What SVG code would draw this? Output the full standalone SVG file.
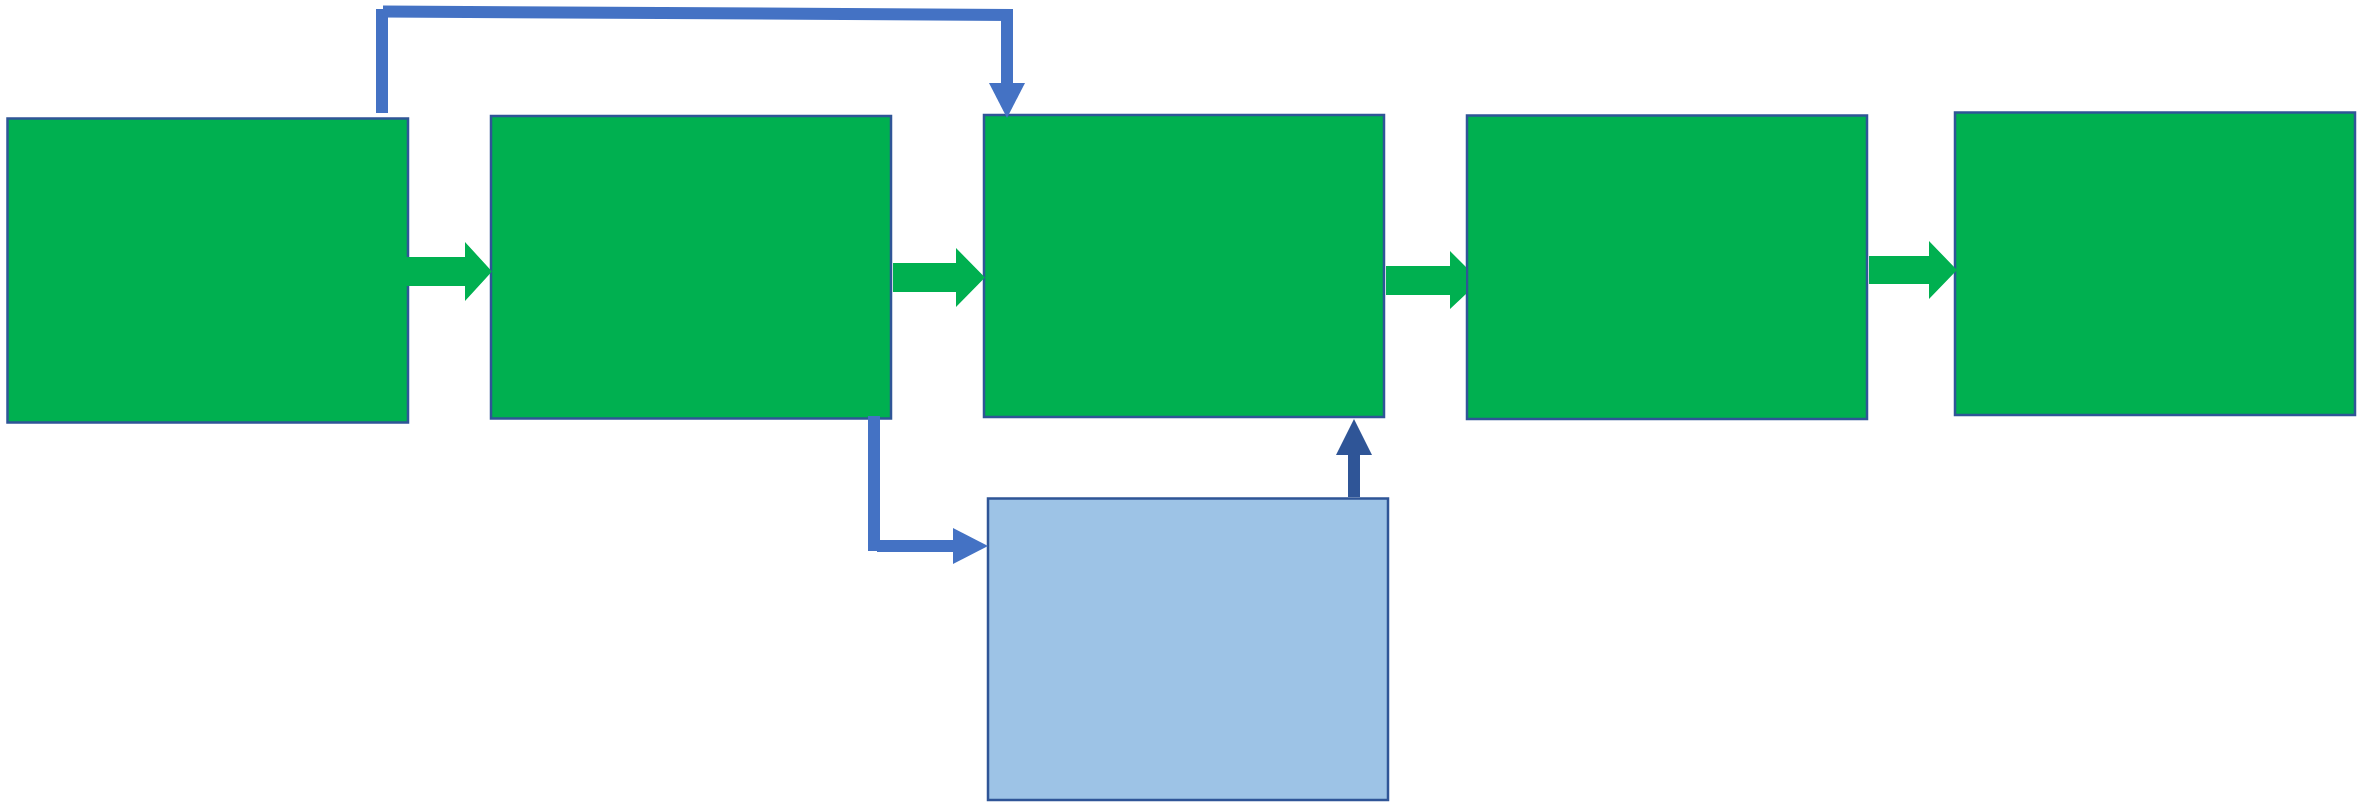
<svg xmlns="http://www.w3.org/2000/svg" width="2366" height="802" viewBox="0 0 2366 802">
<style>
.g{fill:#00B050;stroke:#2F5597;stroke-width:2.5}
.b{fill:#9DC3E6;stroke:#2F5597;stroke-width:2.5}
.ga{fill:#00B050;stroke:none}
.bl{stroke:#4472C4;stroke-width:12;fill:none}
.bh{fill:#4472C4;stroke:none}
.dh{fill:#2F5597;stroke:none}
</style>
<rect width="2366" height="802" fill="#ffffff"/>
<g id="node1"><rect class="g" x="7.5" y="118.5" width="400.5" height="304"/></g>
<g id="node2"><rect class="g" x="491" y="116" width="400" height="302.5"/></g>
<g id="node3"><rect class="g" x="984" y="115" width="400" height="302"/></g>
<g id="node4"><rect class="g" x="1467" y="115.5" width="400" height="303.5"/></g>
<g id="node5"><rect class="g" x="1955" y="112.5" width="400" height="302.5"/></g>
<g id="node6"><rect class="b" x="988" y="498.5" width="400" height="301.5"/></g>
<g id="connectors">
<polygon class="ga" points="400,257 465,257 465,242 492,271.5 465,301 465,286 400,286"/>
<polygon class="ga" points="893,263 956,263 956,248 985,277.5 956,307 956,292 893,292"/>
<polygon class="ga" points="1386,266 1450,266 1450,251 1466,267 1466,294 1450,309 1450,295 1386,295"/>
<polygon class="ga" points="1869,256 1929,256 1929,241 1957,270 1929,299 1929,284 1869,284"/>
<line class="bl" x1="382" y1="9" x2="382" y2="113"/>
<line class="bl" x1="383" y1="11.5" x2="1012" y2="15"/>
<line class="bl" x1="1007" y1="9" x2="1007" y2="84"/>
<polygon class="bh" points="989,83 1025,83 1007,118"/>
<line class="bl" x1="874" y1="416" x2="874" y2="551"/>
<line class="bl" x1="877" y1="546" x2="955" y2="546"/>
<polygon class="bh" points="953,528 988,546 953,564"/>
<rect class="dh" x="1348" y="454" width="12" height="43"/>
<polygon class="dh" points="1336,455 1372,455 1354,419"/>
</g>
</svg>
